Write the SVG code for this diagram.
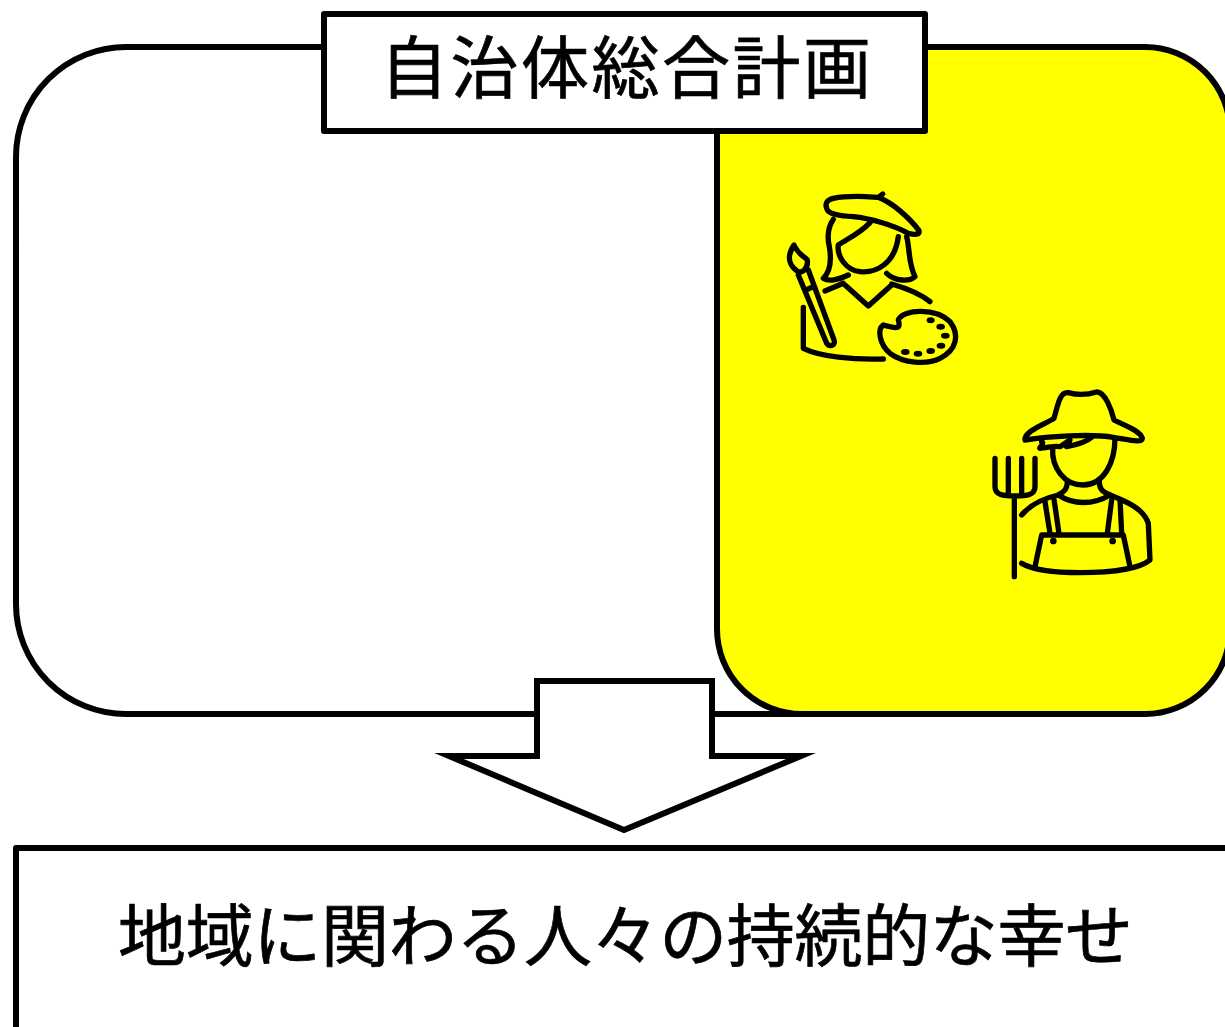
<svg xmlns="http://www.w3.org/2000/svg" width="1225" height="1027" viewBox="0 0 1225 1027">
<style>
.box{stroke:#000;stroke-width:6;stroke-linejoin:round}
.ic{fill:none;stroke:#000;stroke-width:16;stroke-linecap:round;stroke-linejoin:round}
.dot{fill:#000}
text{font-family:"Noto Sans CJK JP","Noto Sans",sans-serif;font-size:68px;fill:#000;stroke:#000;stroke-width:.7}
</style>
<rect width="1225" height="1027" fill="#fff"/>
<g id="panel-white"><rect class="box" x="16" y="47" width="900" height="667" rx="110" ry="110" fill="#fff"/></g>
<g id="panel-yellow"><rect class="box" x="717" y="47" width="513" height="667" rx="85" ry="85" fill="#ff0"/></g>
<g id="title"><rect class="box" x="324" y="14" width="601" height="117" fill="#fff"/>
<text x="380" y="93" letter-spacing="2.5">自治体総合計画</text></g>
<g id="painter" transform="translate(770 180) scale(.3333)">
<path class="ic" d="M338 42L325 52C370 70 420 115 447 152C450 165 435 165 415 160C370 135 300 115 250 110C215 108 175 105 170 85C165 70 170 60 190 55C240 45 290 50 325 52"/>
<path class="ic" d="M190 118C175 140 170 165 178 200C185 240 180 275 160 295C175 305 205 300 235 285"/>
<path class="ic" d="M300 128C270 160 235 175 205 195C200 225 225 270 270 275C320 280 375 250 385 170"/>
<path class="ic" d="M410 170C420 210 415 250 435 290C420 305 375 305 350 280"/>
<path class="ic" d="M165 333L220 310M225 315L295 378L365 315M365 312C410 325 450 340 480 365"/>
<path class="ic" d="M85 285L170 490C178 502 198 497 192 480L115 270M72 195C55 220 50 250 80 272C95 285 115 265 112 240C105 230 85 225 72 195ZM108 330L130 320"/>
<path class="ic" d="M100 382L100 505C150 530 250 540 340 537"/>
<path class="ic" d="M340 435C375 445 395 450 385 420C400 385 500 385 540 425C570 465 560 510 510 535C470 555 400 550 360 520C330 495 320 450 340 435Z"/>
<g class="dot"><ellipse cx="482" cy="421" rx="12" ry="9"/><ellipse cx="512" cy="440" rx="13" ry="9"/><ellipse cx="526" cy="467" rx="13" ry="9"/><ellipse cx="513" cy="497" rx="13" ry="9"/><ellipse cx="482" cy="513" rx="13" ry="9"/><ellipse cx="444" cy="521" rx="13" ry="9"/><ellipse cx="406" cy="516" rx="13" ry="9"/></g>
</g>
<g id="farmer" transform="translate(980 380) scale(.3333)">
<path class="ic" d="M135 175C140 150 200 130 222 115C235 70 240 35 265 38C290 45 320 45 350 36C375 35 395 90 402 120C430 135 480 150 487 175C485 190 450 180 400 172C330 160 200 170 135 180Z"/>
<path class="ic" d="M185 185C195 190 175 205 180 205C200 205 225 195 240 200L270 180L260 200C290 195 320 185 335 172"/>
<path class="ic" d="M218 205C215 260 250 315 310 315C370 315 405 250 405 175"/>
<path class="ic" d="M262 305C262 325 255 335 235 345M358 305C358 325 365 335 390 345M235 345C280 375 340 375 390 345"/>
<path class="ic" d="M125 405C150 375 190 355 235 345M390 345C440 365 490 385 505 430L510 540C480 565 400 578 300 578C220 578 160 570 125 550"/>
<path class="ic" d="M195 365L210 460M222 358L237 460M395 360L382 460M420 358L425 460M165 560L185 465L430 465L450 560"/>
<circle class="dot" cx="220" cy="483" r="10"/><circle class="dot" cx="398" cy="483" r="10"/>
<path class="ic" d="M45 235L45 320C45 345 70 348 105 348C140 348 165 345 165 320L165 235M85 235L85 345M125 235L125 345M103 348L103 590"/>
</g>
<g id="connectors"><path d="M537 681H712V756H801L624 830L449 756H537Z" fill="#fff" stroke="#000" stroke-width="6" stroke-miterlimit="10"/></g>
<g id="outcome"><rect class="box" x="16" y="848" width="1240" height="220" fill="#fff"/>
<text x="118" y="961" letter-spacing="-.35">地域に関わる人々の持続的な幸せ</text></g>
</svg>
